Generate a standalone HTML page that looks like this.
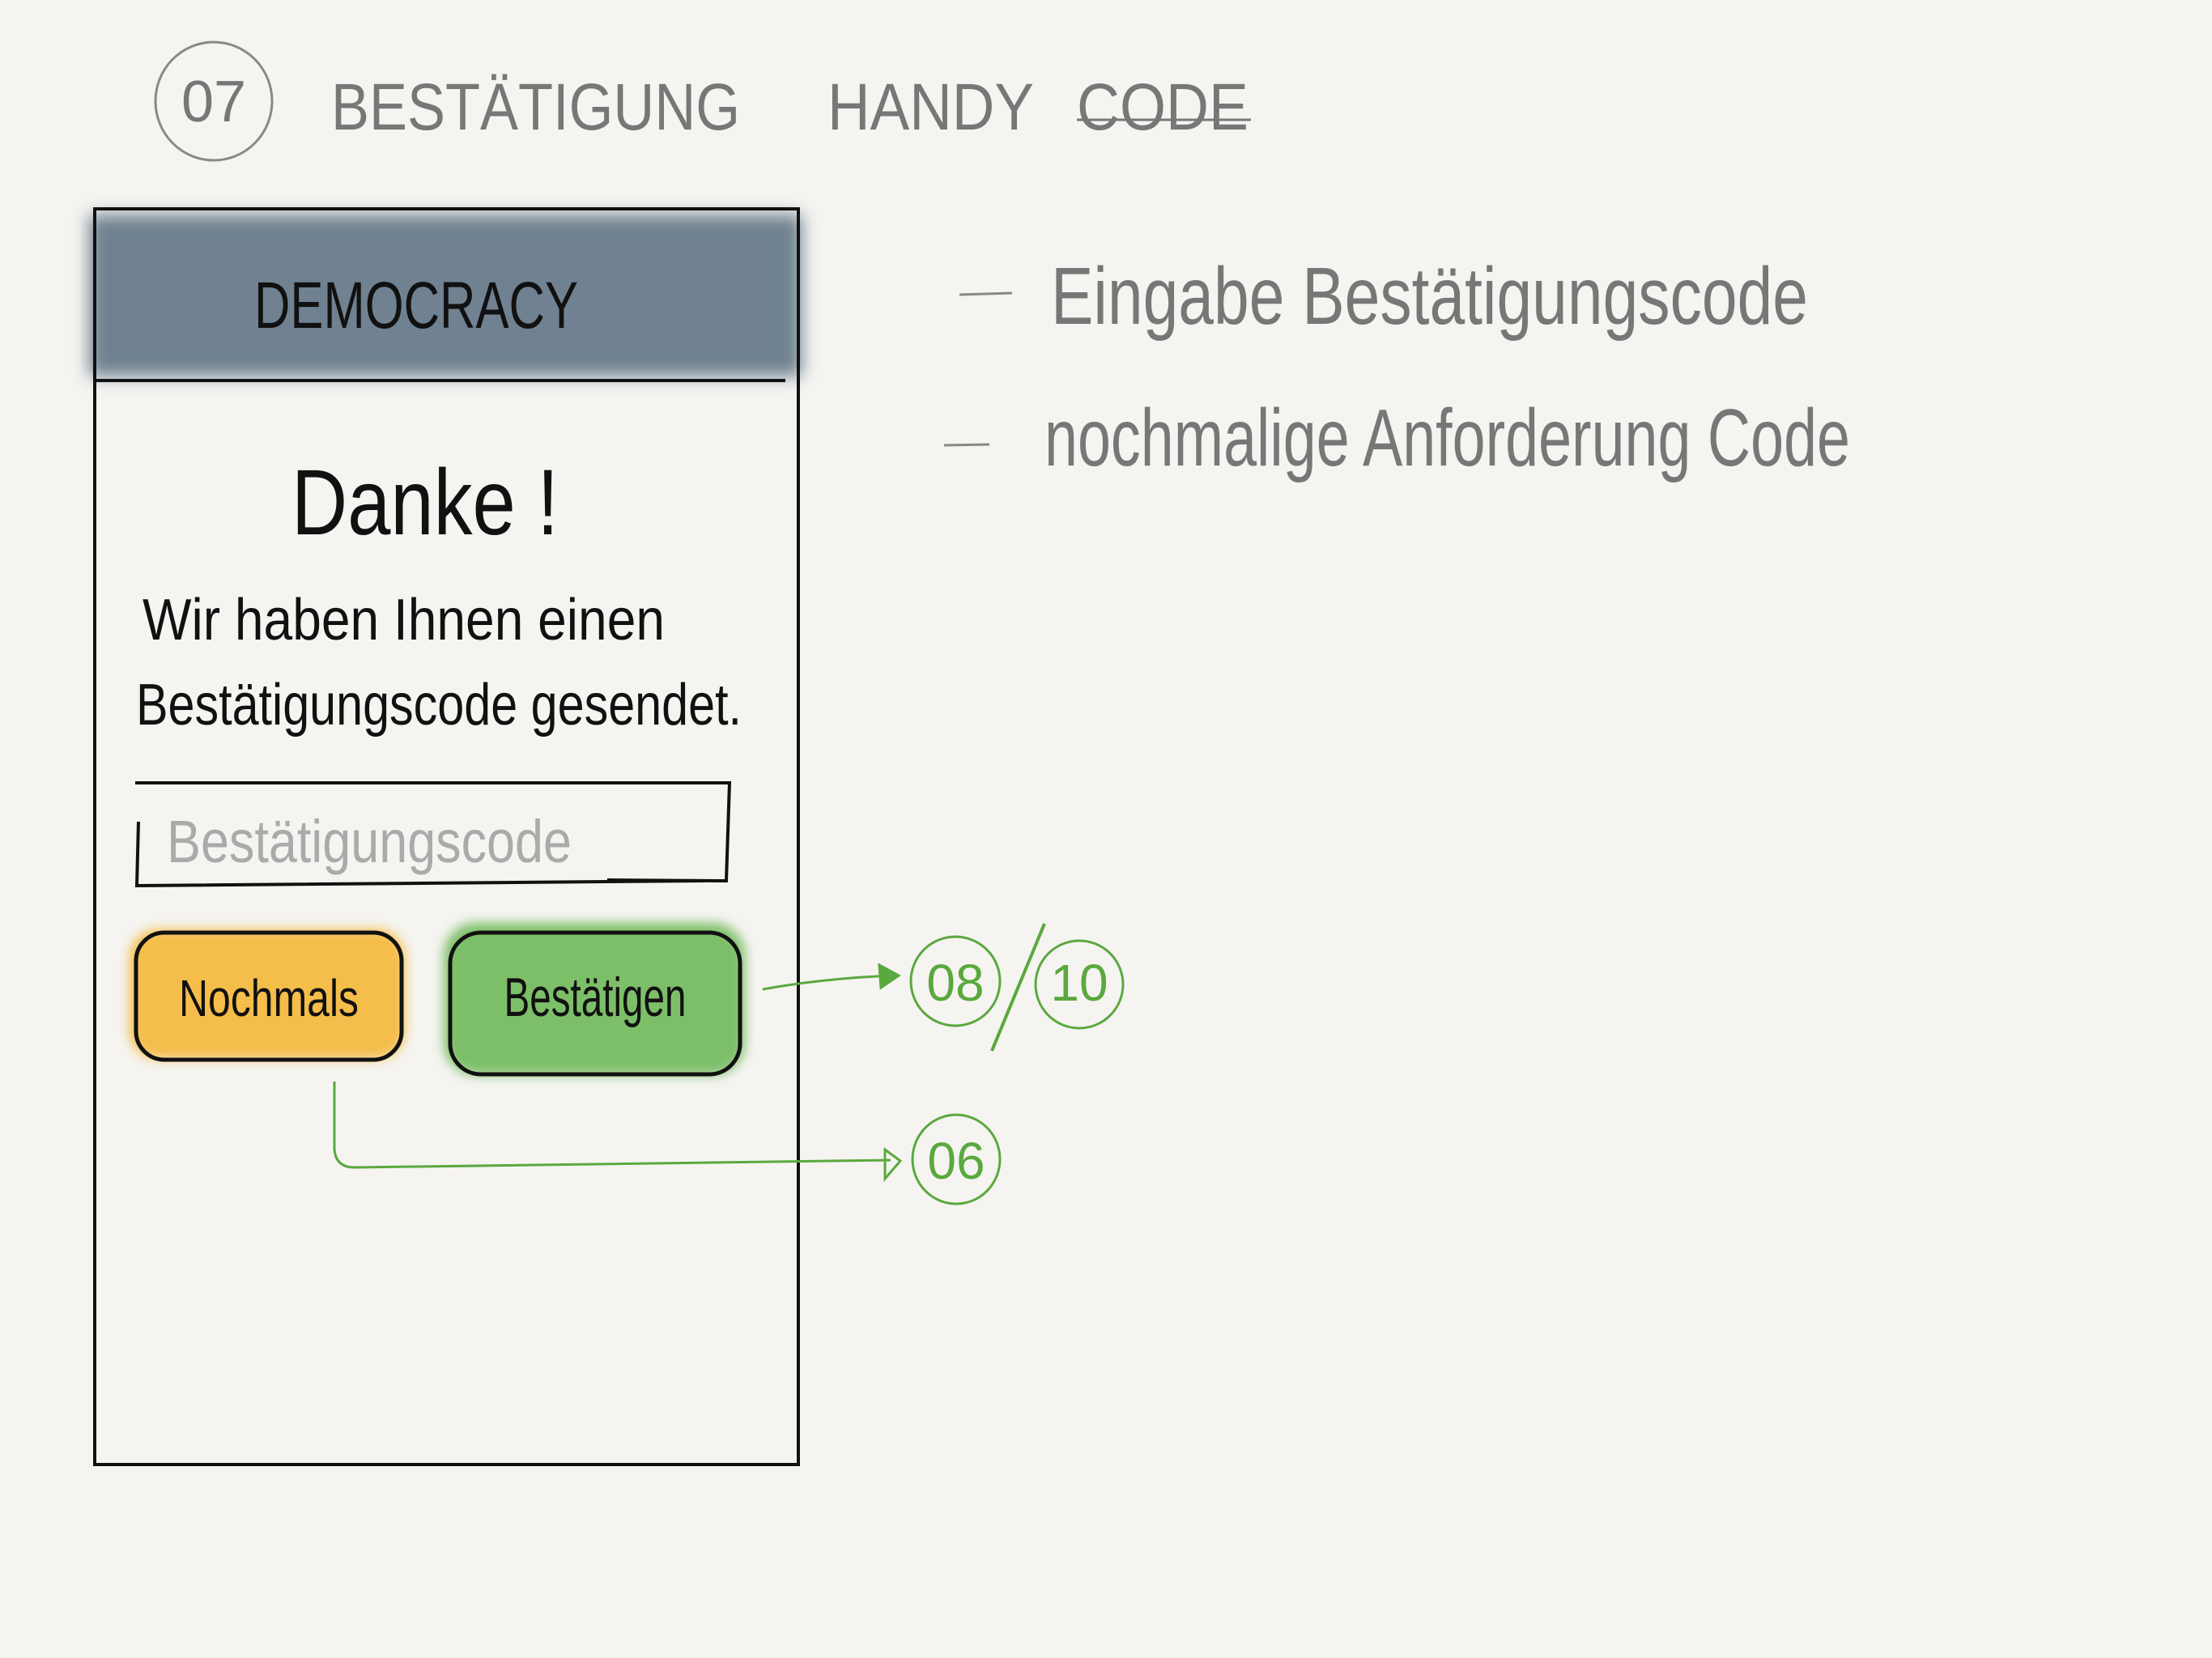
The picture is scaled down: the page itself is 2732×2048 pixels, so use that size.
<!DOCTYPE html>
<html><head><meta charset="utf-8"><style>
html,body{margin:0;padding:0;background:#f5f4f1;}
svg{display:block;}
text{font-family:"Liberation Sans",sans-serif;}
</style></head><body>
<svg width="2732" height="2048" viewBox="0 0 2732 2048" xmlns="http://www.w3.org/2000/svg">
<defs>
<filter id="blur" x="-10%" y="-30%" width="120%" height="160%"><feGaussianBlur stdDeviation="10"/></filter>
<filter id="blur2" x="-10%" y="-30%" width="120%" height="160%"><feGaussianBlur stdDeviation="7"/></filter>
</defs>
<rect width="2732" height="2048" fill="#f5f4f1"/>
<!-- title -->
<ellipse cx="264" cy="125" rx="72" ry="73" fill="none" stroke="#888" stroke-width="3"/>
<text x="264" y="150" font-size="72" fill="#777" text-anchor="middle">07</text>
<text x="409" y="160" font-size="82" fill="#777" textLength="505" lengthAdjust="spacingAndGlyphs">BESTÄTIGUNG</text>
<text x="1022" y="160" font-size="82" fill="#777" textLength="255" lengthAdjust="spacingAndGlyphs">HANDY</text>
<text x="1330" y="160" font-size="82" fill="#777" textLength="212" lengthAdjust="spacingAndGlyphs">CODE</text>
<line x1="1330" y1="148" x2="1545" y2="148" stroke="#777" stroke-width="3"/>
<!-- header -->
<rect x="110" y="265" width="880" height="200" fill="#708291" filter="url(#blur)"/>
<rect x="117" y="258" width="869" height="1551" fill="none" stroke="#111" stroke-width="4"/>
<line x1="117" y1="470" x2="970" y2="470" stroke="#111" stroke-width="4"/>
<text x="514" y="405" font-size="82" fill="#111" text-anchor="middle" textLength="400" lengthAdjust="spacingAndGlyphs">DEMOCRACY</text>
<!-- body text -->
<text x="360" y="660" font-size="115" fill="#111" textLength="330" lengthAdjust="spacingAndGlyphs">Danke !</text>
<text x="176" y="790" font-size="72" fill="#111" textLength="645" lengthAdjust="spacingAndGlyphs">Wir haben Ihnen einen</text>
<text x="168" y="895" font-size="72" fill="#111" textLength="748" lengthAdjust="spacingAndGlyphs">Bestätigungscode gesendet.</text>
<path d="M167 967 L901 967 L897 1088 L750 1087 M171 1015 L169 1094 L870 1088" fill="none" stroke="#111" stroke-width="4"/>
<text x="206" y="1065" font-size="74" fill="#aaa" textLength="500" lengthAdjust="spacingAndGlyphs">Bestätigungscode</text>
<!-- buttons -->
<rect x="160" y="1148" width="340" height="160" rx="35" fill="#f5bd4a" filter="url(#blur2)"/>
<rect x="168" y="1152" width="328" height="157" rx="35" fill="none" stroke="#111" stroke-width="5"/>
<text x="332" y="1255" font-size="64" fill="#111" text-anchor="middle" textLength="222" lengthAdjust="spacingAndGlyphs">Nochmals</text>
<rect x="548" y="1140" width="372" height="188" rx="40" fill="#7dbf68" filter="url(#blur2)"/>
<rect x="556" y="1152" width="358" height="175" rx="38" fill="none" stroke="#111" stroke-width="5"/>
<text x="735" y="1255" font-size="68" fill="#111" text-anchor="middle" textLength="225" lengthAdjust="spacingAndGlyphs">Bestätigen</text>
<!-- connectors -->
<g stroke="#5aa83e" stroke-width="3" fill="none">
<path d="M942 1222 Q1020 1208 1105 1205"/>
<path d="M1086 1192 L1110 1205 L1088 1220 Z" fill="#5aa83e"/>
<path d="M413 1336 L413 1420 Q415 1443 440 1442 L1100 1433"/>
<path d="M1093 1420 L1112 1434 L1093 1456 Z"/>
<ellipse cx="1180" cy="1212" rx="55" ry="55"/>
<ellipse cx="1333" cy="1216" rx="54" ry="54"/>
<line x1="1290" y1="1141" x2="1225" y2="1298" stroke-width="4"/>
<ellipse cx="1181" cy="1432" rx="54" ry="55"/>
</g>
<g fill="#5aa83e" font-size="64" text-anchor="middle">
<text x="1180" y="1236">08</text>
<text x="1333" y="1236">10</text>
<text x="1181" y="1456">06</text>
</g>
<!-- notes -->
<line x1="1185" y1="364" x2="1250" y2="362" stroke="#888" stroke-width="3"/>
<text x="1298" y="400" font-size="100" fill="#777" textLength="935" lengthAdjust="spacingAndGlyphs">Eingabe Bestätigungscode</text>
<line x1="1166" y1="550" x2="1222" y2="549" stroke="#888" stroke-width="3"/>
<text x="1290" y="575" font-size="100" fill="#777" textLength="995" lengthAdjust="spacingAndGlyphs">nochmalige Anforderung Code</text>
</svg>
</body></html>
